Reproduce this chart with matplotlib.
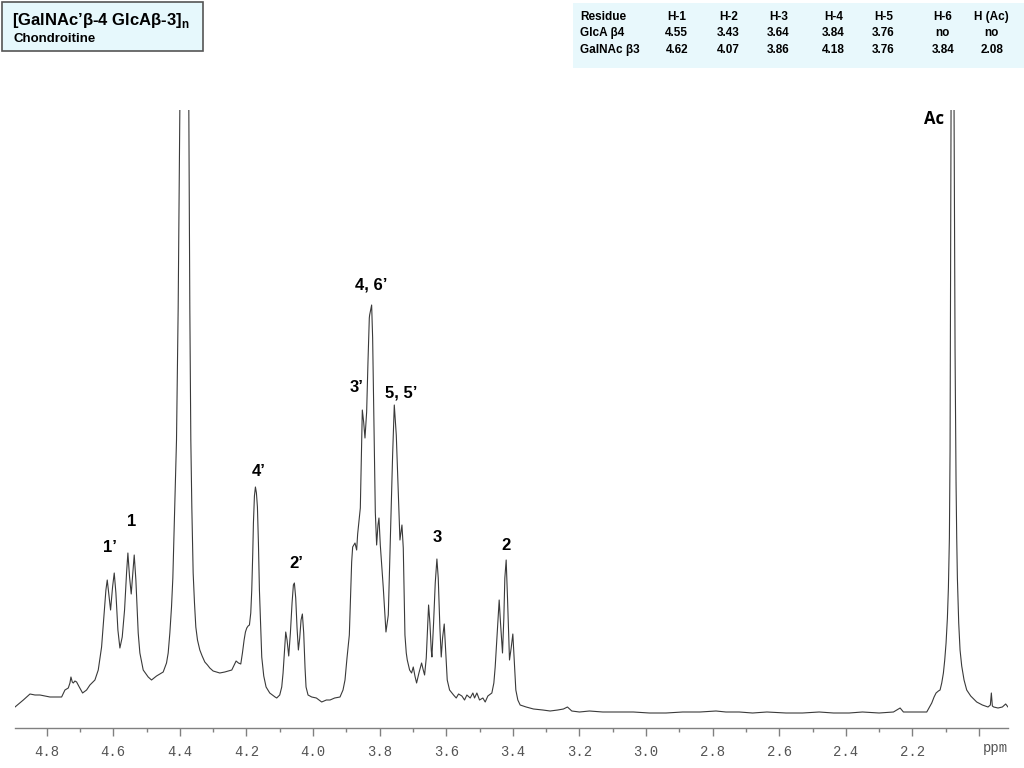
import matplotlib
matplotlib.use('Agg')
import matplotlib.pyplot as plt
from matplotlib.patches import Rectangle
from matplotlib.ticker import MultipleLocator

plt.rcParams['font.family'] = ['Liberation Sans', 'DejaVu Sans']
plt.rcParams['mathtext.fontset'] = 'custom'
plt.rcParams['mathtext.bf'] = 'Liberation Sans:bold'

# 1H spectrum trace, region by region
# (ppm, intensity above the axis line)
# anomeric region, H-1 / H-1'
ppm_a = [4.895, 4.87, 4.85, 4.835, 4.82, 4.79, 4.755, 4.745, 4.735, 4.73,
         4.727, 4.723, 4.72, 4.715, 4.71, 4.702, 4.692, 4.68, 4.67, 4.655,
         4.645, 4.635, 4.628, 4.622, 4.618, 4.613, 4.608, 4.602, 4.597, 4.592,
         4.586, 4.58, 4.573, 4.566, 4.56, 4.556, 4.551, 4.546, 4.541, 4.537,
         4.532, 4.525, 4.52, 4.51, 4.495, 4.485, 4.47]
int_a = [21, 28, 34, 33, 33, 31, 31, 38, 40, 45,
         51, 46, 45, 47, 46, 41, 35, 38, 43, 48,
         58, 81, 111, 138, 148, 133, 118, 141, 155, 135,
         98, 80, 91, 118, 155, 175, 151, 134, 155, 173,
         148, 95, 75, 58, 51, 48, 52]
# HOD
ppm_b = [4.46, 4.45, 4.44, 4.435, 4.43, 4.425, 4.421, 4.418, 4.415, 4.413,
         4.41, 4.405, 4.40, 4.387, 4.373, 4.37, 4.367, 4.364, 4.362, 4.36,
         4.356, 4.352, 4.347, 4.34, 4.333, 4.325, 4.317, 4.31, 4.30, 4.29,
         4.28, 4.265, 4.244]
int_b = [54, 56, 65, 75, 95, 121, 150, 188, 225, 255,
         288, 420, 618, 1400, 618, 420, 288, 221, 185, 155,
         125, 101, 88, 78, 72, 66, 63, 60, 57, 56,
         55, 56, 58]
# H-4' and H-2'
ppm_c = [4.231, 4.224, 4.217, 4.212, 4.207, 4.203, 4.199, 4.195, 4.191, 4.187,
         4.184, 4.181, 4.179, 4.176, 4.173, 4.17, 4.167, 4.164, 4.161, 4.157,
         4.154, 4.148, 4.141, 4.13, 4.114, 4.109, 4.10, 4.094, 4.09, 4.086,
         4.082, 4.078, 4.073, 4.068, 4.063, 4.059, 4.056, 4.052, 4.048, 4.044,
         4.04, 4.036, 4.032, 4.028, 4.024, 4.021, 4.015, 4.004, 3.99, 3.974]
int_c = [67, 65, 64, 75, 88, 96, 100, 102, 103, 115,
         138, 175, 205, 232, 241, 235, 221, 185, 138, 100,
         71, 52, 41, 35, 31, 30, 33, 41, 55, 75,
         96, 88, 72, 95, 125, 143, 145, 130, 100, 78,
         90, 108, 114, 95, 60, 41, 33, 31, 30, 26]
# ring protons 3', 4, 6', 5, 5', 3
ppm_d = [3.96, 3.949, 3.935, 3.919, 3.91, 3.904, 3.898, 3.891, 3.884, 3.881,
         3.874, 3.869, 3.866, 3.858, 3.852, 3.848, 3.844, 3.839, 3.835, 3.831,
         3.83, 3.827, 3.824, 3.821, 3.817, 3.813, 3.809, 3.805, 3.802, 3.798,
         3.789, 3.781, 3.774, 3.767, 3.761, 3.756, 3.75, 3.744, 3.739, 3.733,
         3.729, 3.724, 3.72, 3.717, 3.71, 3.704, 3.699, 3.694, 3.689, 3.682,
         3.674, 3.669, 3.665, 3.66, 3.656, 3.653, 3.649, 3.645, 3.643, 3.638,
         3.633, 3.628, 3.624, 3.619, 3.615, 3.611, 3.606, 3.602, 3.597, 3.59,
         3.578]
int_d = [28, 28, 30, 31, 38, 48, 70, 93, 166, 181,
         185, 178, 194, 220, 318, 306, 290, 316, 366, 410,
         413, 418, 423, 390, 300, 216, 183, 203, 210, 183,
         140, 96, 113, 200, 273, 323, 293, 236, 188, 203,
         180, 93, 75, 68, 58, 55, 61, 52, 45, 55,
         65, 58, 53, 70, 100, 123, 105, 78, 71, 105,
         145, 169, 150, 100, 71, 90, 104, 80, 48, 38,
         33]
# H-2
ppm_e = [3.57, 3.563, 3.553, 3.545, 3.538, 3.528, 3.52, 3.515, 3.508, 3.50,
         3.49, 3.483, 3.475, 3.463, 3.457, 3.453, 3.447, 3.441, 3.437, 3.431,
         3.427, 3.424, 3.42, 3.416, 3.41, 3.405, 3.40, 3.396, 3.391, 3.385,
         3.378, 3.36]
int_e = [30, 34, 32, 28, 33, 30, 35, 30, 35, 28,
         30, 26, 32, 35, 45, 61, 95, 128, 105, 75,
         110, 150, 168, 130, 68, 80, 94, 70, 38, 28,
         23, 21]
# empty baseline
ppm_f = [3.338, 3.31, 3.288, 3.265, 3.248, 3.236, 3.223, 3.20, 3.17, 3.13,
         3.09, 3.038, 2.99, 2.94, 2.89, 2.838, 2.79, 2.76, 2.72, 2.68,
         2.637, 2.58, 2.53, 2.48, 2.437, 2.39, 2.35, 2.30, 2.257, 2.237,
         2.227, 2.19, 2.157]
int_f = [19, 18, 17, 18, 19, 21, 17, 16, 17, 16,
         16, 16, 15, 15, 16, 16, 17, 16, 16, 15,
         16, 15, 15, 16, 15, 15, 16, 15, 16, 20,
         16, 16, 16]
# N-acetyl CH3
ppm_g = [2.142, 2.135, 2.129, 2.122, 2.117, 2.112, 2.107, 2.103, 2.099, 2.095,
         2.092, 2.089, 2.087, 2.084, 2.0795, 2.075, 2.072, 2.069, 2.067, 2.065,
         2.061, 2.057, 2.052, 2.045, 2.037, 2.025, 2.007, 1.99, 1.973, 1.966,
         1.963, 1.96, 1.956, 1.943, 1.93, 1.92, 1.913]
int_g = [25, 31, 35, 37, 38, 45, 55, 68, 85, 110,
         140, 190, 278, 618, 1800, 618, 378, 245, 190, 150,
         105, 78, 62, 48, 38, 32, 26, 23, 21, 23,
         35, 22, 21, 20, 21, 24, 21]

ppm = ppm_a + ppm_b + ppm_c + ppm_d + ppm_e + ppm_f + ppm_g
intensity = int_a + int_b + int_c + int_d + int_e + int_f + int_g

# peak assignments
peak_labels = ['1\u2019', '1', '4\u2019', '2\u2019', '3\u2019', '4, 6\u2019', '5, 5\u2019', '3', '2']
label_ppm = [4.61, 4.545, 4.164, 4.049, 3.869, 3.824, 3.734, 3.627, 3.42]
label_int = [181, 206, 256, 165, 341, 443, 335, 191, 182]

# chemical shift table
headers = ['Residue', 'H-1', 'H-2', 'H-3', 'H-4', 'H-5', 'H-6', 'H (Ac)']
glca = ['GlcA \u03b24', '4.55', '3.43', '3.64', '3.84', '3.76', 'no', 'no']
galnac = ['GalNAc \u03b23', '4.62', '4.07', '3.86', '4.18', '3.76', '3.84', '2.08']

W, H = 1024, 768
fig = plt.figure(figsize=(10.24, 7.68), dpi=100)
ax = fig.add_axes([15 / W, 40 / H, 993 / W, 618 / H])

ax.plot(ppm, intensity, color='#3a3a3a', lw=0.8)
ax.set_xlim(4.895, 1.913)
ax.set_ylim(0, 618)

for s in ['top', 'left', 'right']:
    ax.spines[s].set_visible(False)
ax.spines['bottom'].set_color('#808080')
ax.spines['bottom'].set_linewidth(1.0)
ax.set_yticks([])
ax.xaxis.set_minor_locator(MultipleLocator(0.1))
ax.tick_params(axis='x', which='major', length=6, width=1, color='#808080',
               labelsize=10, labelcolor='#555555', pad=6)
ax.tick_params(axis='x', which='minor', length=3, width=1, color='#808080')
ticks = [round(4.8 - 0.2 * i, 1) for i in range(15)]
ax.set_xticks(ticks)
ax.set_xticklabels(['%.1f' % t if t > 2.1 else '' for t in ticks],
                   family='Liberation Mono')
ax.text(1.952, -0.033, 'ppm', transform=ax.get_xaxis_transform(),
        ha='center', va='center', fontsize=10, color='#555555',
        family='Liberation Mono')

for lab, x, y in zip(peak_labels, label_ppm, label_int):
    ax.text(x, y, lab, ha='center', va='center', fontsize=12, fontweight='bold')
ax.text(2.134, 609, 'Ac', ha='center', va='center', fontsize=12,
        fontweight='bold', family=['Open Sans', 'DejaVu Sans'], clip_on=False)

# title box
fig.add_artist(Rectangle((2 / W, 1 - 51 / H), 201 / W, 49 / H,
                         transform=fig.transFigure, facecolor='#e6f8fc',
                         edgecolor='#555555', lw=1.2))
fig.text(12.5 / W, 1 - 25 / H, '[GalNAc\u2019\u03b2-4 GlcA\u03b2-3]$_{\\mathbf{n}}$',
         fontsize=12, fontweight='bold', va='baseline')
fig.text(14 / W, 1 - 41.5 / H, 'Chondroitine', fontsize=9.5,
         fontweight='bold', va='baseline')

# table
fig.add_artist(Rectangle((573 / W, 1 - 68 / H), 451 / W, 65 / H,
                         transform=fig.transFigure, facecolor='#e8f8fc',
                         edgecolor='none'))
col_x = [580, 676.7, 728.3, 778.3, 833.3, 883.3, 942.7, 991.7]
row_y = [16.7, 33.3, 50]
for r, row in enumerate([headers, glca, galnac]):
    for c, val in enumerate(row):
        fig.text(col_x[c] / W, 1 - row_y[r] / H, val, fontsize=8.5,
                 fontweight='bold', va='center',
                 ha='left' if c == 0 else 'center')

fig.savefig('out.png', dpi=100)
